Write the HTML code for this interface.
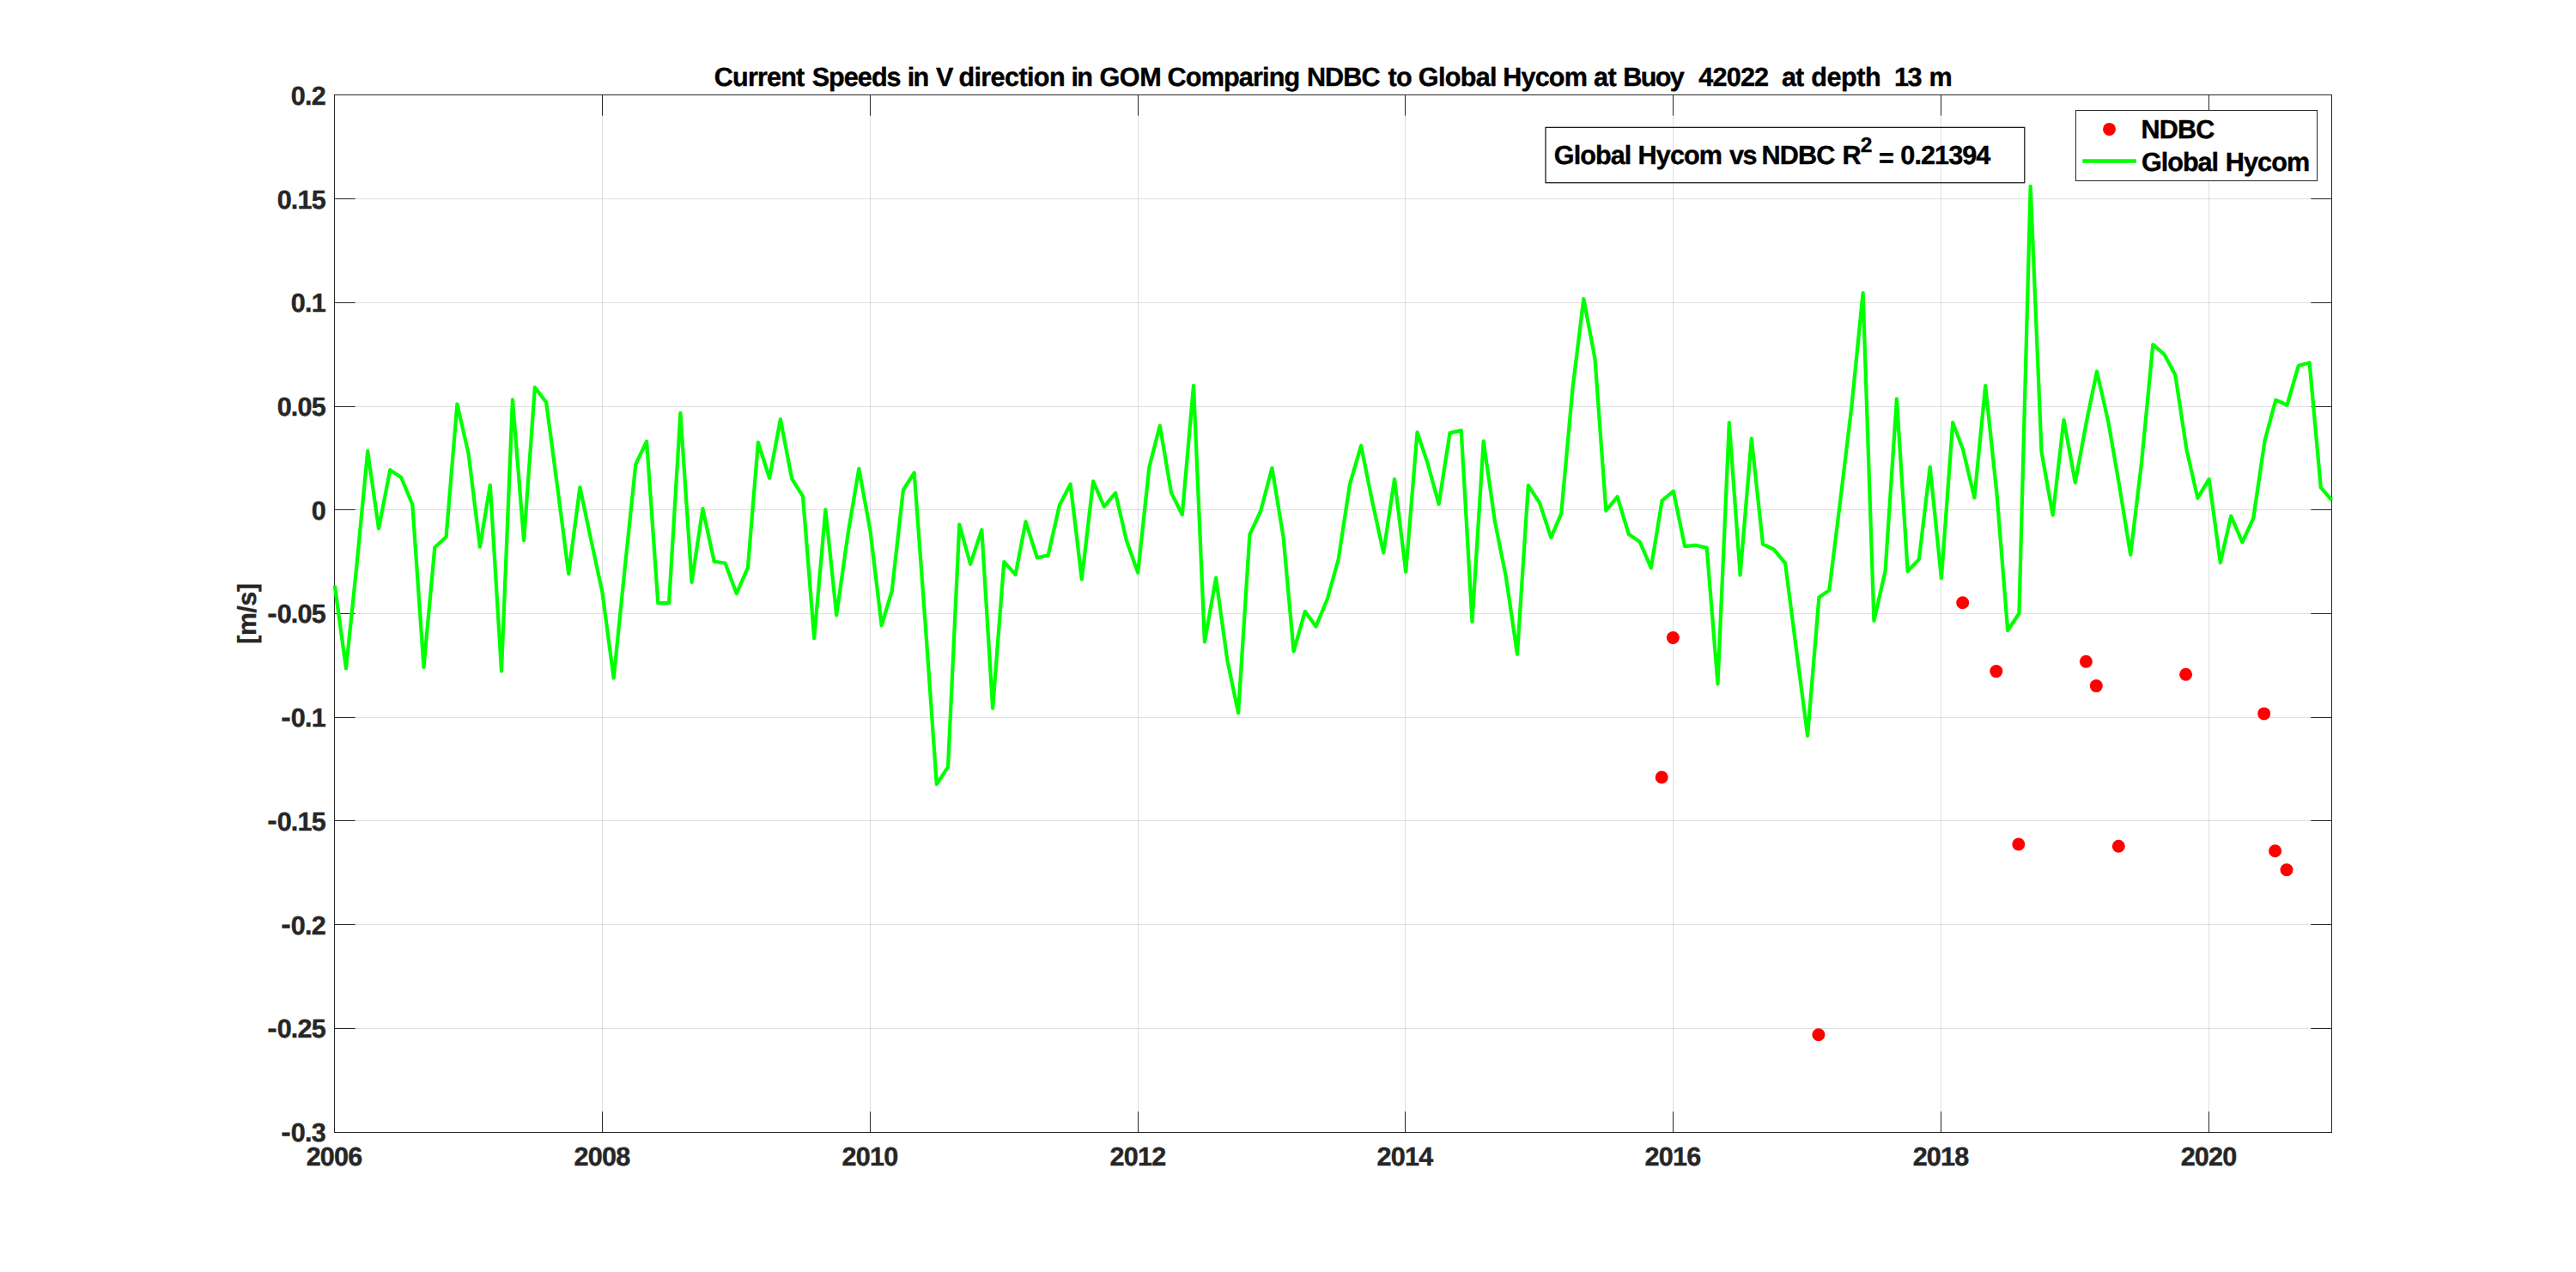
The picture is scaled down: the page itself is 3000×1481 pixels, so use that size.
<!DOCTYPE html>
<html><head><meta charset="utf-8"><title>Current Speeds</title>
<style>
html,body{margin:0;padding:0;background:#fff;overflow:hidden;}
svg{display:block;text-rendering:geometricPrecision;}
text{font-family:"Liberation Sans",Arial,Helvetica,sans-serif;font-weight:bold;font-size:30.6px;}
.tk{fill:#262626;stroke:#262626;stroke-width:0.4px;letter-spacing:-0.8px;}
.hy{fill:#262626;stroke:none;letter-spacing:0;font-size:36px;}
.bl{fill:#000;stroke:#000;stroke-width:0.4px;}
</style></head><body>
<svg width="3000" height="1481" viewBox="0 0 3000 1481">
<rect width="3000" height="1481" fill="#fff"/>

<g stroke="#262626" stroke-opacity="0.15" stroke-width="1">
<line x1="701.50" y1="110.5" x2="701.50" y2="1318.5"/>
<line x1="1013.50" y1="110.5" x2="1013.50" y2="1318.5"/>
<line x1="1325.50" y1="110.5" x2="1325.50" y2="1318.5"/>
<line x1="1636.50" y1="110.5" x2="1636.50" y2="1318.5"/>
<line x1="1948.50" y1="110.5" x2="1948.50" y2="1318.5"/>
<line x1="2260.50" y1="110.5" x2="2260.50" y2="1318.5"/>
<line x1="2572.50" y1="110.5" x2="2572.50" y2="1318.5"/>
<line x1="389.5" y1="231.50" x2="2715.5" y2="231.50"/>
<line x1="389.5" y1="352.50" x2="2715.5" y2="352.50"/>
<line x1="389.5" y1="473.50" x2="2715.5" y2="473.50"/>
<line x1="389.5" y1="593.50" x2="2715.5" y2="593.50"/>
<line x1="389.5" y1="714.50" x2="2715.5" y2="714.50"/>
<line x1="389.5" y1="835.50" x2="2715.5" y2="835.50"/>
<line x1="389.5" y1="955.50" x2="2715.5" y2="955.50"/>
<line x1="389.5" y1="1076.50" x2="2715.5" y2="1076.50"/>
<line x1="389.5" y1="1197.50" x2="2715.5" y2="1197.50"/>
</g>
<g stroke="#262626" stroke-width="1" fill="none">
<rect x="389.5" y="110.5" width="2326.0" height="1208.0"/>
<line x1="701.50" y1="1318.5" x2="701.50" y2="1294.3"/>
<line x1="701.50" y1="110.5" x2="701.50" y2="134.7"/>
<line x1="1013.50" y1="1318.5" x2="1013.50" y2="1294.3"/>
<line x1="1013.50" y1="110.5" x2="1013.50" y2="134.7"/>
<line x1="1325.50" y1="1318.5" x2="1325.50" y2="1294.3"/>
<line x1="1325.50" y1="110.5" x2="1325.50" y2="134.7"/>
<line x1="1636.50" y1="1318.5" x2="1636.50" y2="1294.3"/>
<line x1="1636.50" y1="110.5" x2="1636.50" y2="134.7"/>
<line x1="1948.50" y1="1318.5" x2="1948.50" y2="1294.3"/>
<line x1="1948.50" y1="110.5" x2="1948.50" y2="134.7"/>
<line x1="2260.50" y1="1318.5" x2="2260.50" y2="1294.3"/>
<line x1="2260.50" y1="110.5" x2="2260.50" y2="134.7"/>
<line x1="2572.50" y1="1318.5" x2="2572.50" y2="1294.3"/>
<line x1="2572.50" y1="110.5" x2="2572.50" y2="134.7"/>
<line x1="389.5" y1="231.50" x2="413.7" y2="231.50"/>
<line x1="2715.5" y1="231.50" x2="2691.3" y2="231.50"/>
<line x1="389.5" y1="352.50" x2="413.7" y2="352.50"/>
<line x1="2715.5" y1="352.50" x2="2691.3" y2="352.50"/>
<line x1="389.5" y1="473.50" x2="413.7" y2="473.50"/>
<line x1="2715.5" y1="473.50" x2="2691.3" y2="473.50"/>
<line x1="389.5" y1="593.50" x2="413.7" y2="593.50"/>
<line x1="2715.5" y1="593.50" x2="2691.3" y2="593.50"/>
<line x1="389.5" y1="714.50" x2="413.7" y2="714.50"/>
<line x1="2715.5" y1="714.50" x2="2691.3" y2="714.50"/>
<line x1="389.5" y1="835.50" x2="413.7" y2="835.50"/>
<line x1="2715.5" y1="835.50" x2="2691.3" y2="835.50"/>
<line x1="389.5" y1="955.50" x2="413.7" y2="955.50"/>
<line x1="2715.5" y1="955.50" x2="2691.3" y2="955.50"/>
<line x1="389.5" y1="1076.50" x2="413.7" y2="1076.50"/>
<line x1="2715.5" y1="1076.50" x2="2691.3" y2="1076.50"/>
<line x1="389.5" y1="1197.50" x2="413.7" y2="1197.50"/>
<line x1="2715.5" y1="1197.50" x2="2691.3" y2="1197.50"/>
</g>
<g>
<g fill="#ff0000">
<circle cx="1935.2" cy="905.0" r="7.5"/>
<circle cx="1948.4" cy="742.5" r="7.5"/>
<circle cx="2117.9" cy="1204.8" r="7.5"/>
<circle cx="2285.7" cy="701.7" r="7.5"/>
<circle cx="2324.8" cy="781.6" r="7.5"/>
<circle cx="2350.8" cy="983.0" r="7.5"/>
<circle cx="2429.4" cy="770.2" r="7.5"/>
<circle cx="2441.3" cy="798.6" r="7.5"/>
<circle cx="2467.3" cy="985.3" r="7.5"/>
<circle cx="2545.6" cy="785.2" r="7.5"/>
<circle cx="2636.7" cy="830.9" r="7.5"/>
<circle cx="2649.6" cy="990.7" r="7.5"/>
<circle cx="2663.0" cy="1012.8" r="7.5"/>
</g>
<polyline fill="none" stroke="#00ff00" stroke-width="4.25" stroke-linejoin="round" stroke-linecap="butt" points="389.8,681.6 403.0,778.2 415.0,662.7 428.2,525.2 441.0,615.3 454.3,547.2 467.1,555.8 480.3,587.2 493.5,776.9 506.3,637.5 519.6,625.0 532.4,470.5 545.6,528.1 558.9,636.7 570.8,564.8 584.0,781.3 596.9,465.4 610.1,629.1 622.9,451.0 636.1,468.4 649.4,568.7 662.2,668.1 675.4,567.3 688.2,628.1 701.4,689.4 714.7,789.5 727.1,667.4 740.3,540.7 753.1,513.9 766.3,702.0 779.1,702.0 792.4,480.9 805.6,677.9 818.4,592.2 831.7,653.9 844.5,655.5 857.7,691.1 870.9,661.1 882.9,515.1 896.1,556.5 908.9,488.1 922.2,557.4 935.0,577.8 948.2,743.0 961.4,593.4 974.2,716.2 987.5,621.8 1000.3,545.6 1013.5,618.1 1026.7,728.2 1038.7,688.2 1051.9,570.3 1064.7,550.4 1078.0,731.3 1090.8,913.1 1104.0,893.2 1117.3,610.7 1130.1,656.8 1143.3,617.0 1156.1,824.7 1169.3,654.1 1182.6,669.1 1194.5,607.3 1207.8,649.3 1220.6,646.7 1233.8,588.5 1246.6,563.6 1259.8,674.4 1273.1,560.4 1285.9,589.8 1299.1,573.9 1311.9,629.4 1325.2,666.8 1338.4,543.8 1350.8,495.6 1364.0,573.6 1376.8,599.2 1390.0,449.0 1402.9,747.3 1416.1,672.9 1429.3,768.6 1442.1,830.0 1455.4,622.4 1468.2,595.0 1481.4,544.9 1494.6,625.5 1506.6,758.3 1519.8,711.9 1532.6,729.4 1545.9,697.2 1558.7,651.3 1571.9,564.2 1585.1,518.8 1598.0,583.1 1611.2,643.5 1624.0,557.8 1637.2,665.8 1650.5,503.3 1662.4,538.7 1675.6,586.9 1688.5,504.1 1701.7,501.2 1714.5,723.8 1727.7,513.6 1741.0,607.7 1753.8,671.4 1767.0,761.6 1779.8,565.2 1793.0,585.4 1806.3,625.8 1818.2,598.2 1831.5,452.1 1844.3,348.0 1857.5,417.7 1870.3,594.7 1883.6,578.3 1896.8,621.9 1909.6,630.7 1922.8,661.2 1935.6,582.9 1948.9,571.9 1962.1,636.1 1974.5,634.8 1987.7,637.9 2000.5,796.3 2013.8,492.2 2026.6,669.5 2039.8,510.7 2053.0,633.5 2065.8,639.6 2079.1,655.9 2091.9,755.8 2105.1,856.6 2118.4,695.5 2130.3,687.2 2143.5,580.6 2156.3,474.1 2169.6,341.2 2182.4,722.8 2195.6,664.7 2208.9,464.4 2221.7,665.1 2234.9,651.1 2247.7,543.7 2260.9,673.2 2274.2,491.9 2286.1,523.6 2299.4,579.5 2312.2,449.2 2325.4,574.2 2338.2,734.0 2351.4,714.2 2364.7,216.8 2377.5,525.8 2390.7,599.7 2403.5,488.8 2416.8,561.8 2430.0,490.6 2442.0,432.5 2455.2,490.6 2468.0,564.5 2481.2,645.9 2494.0,539.0 2507.3,401.2 2520.5,412.6 2533.3,436.4 2546.5,523.6 2559.4,579.9 2572.6,557.9 2585.8,655.1 2598.2,600.8 2611.4,631.3 2624.2,603.6 2637.5,513.4 2650.3,465.6 2663.5,471.7 2676.8,425.8 2689.6,422.3 2702.8,567.7 2715.6,582.3"/>
</g>
<text class="tk" x="389.1" y="1357" text-anchor="middle">2006</text>
<text class="tk" x="701.0" y="1357" text-anchor="middle">2008</text>
<text class="tk" x="1013.0" y="1357" text-anchor="middle">2010</text>
<text class="tk" x="1325.0" y="1357" text-anchor="middle">2012</text>
<text class="tk" x="1636.0" y="1357" text-anchor="middle">2014</text>
<text class="tk" x="1948.0" y="1357" text-anchor="middle">2016</text>
<text class="tk" x="2260.1" y="1357" text-anchor="middle">2018</text>
<text class="tk" x="2572.1" y="1357" text-anchor="middle">2020</text>
<text class="tk" x="379" y="121.8" text-anchor="end">0.2</text>
<text class="tk" x="379" y="242.6" text-anchor="end">0.15</text>
<text class="tk" x="379" y="363.3" text-anchor="end">0.1</text>
<text class="tk" x="379" y="484.0" text-anchor="end">0.05</text>
<text class="tk" x="379" y="604.7" text-anchor="end">0</text>
<text class="tk" text-anchor="end"><tspan class="hy" x="323.0" y="726.0">-</tspan><tspan x="379" y="725.4">0.05</tspan></text>
<text class="tk" text-anchor="end"><tspan class="hy" x="339.0" y="846.7">-</tspan><tspan x="379" y="846.1">0.1</tspan></text>
<text class="tk" text-anchor="end"><tspan class="hy" x="323.0" y="967.4">-</tspan><tspan x="379" y="966.8">0.15</tspan></text>
<text class="tk" text-anchor="end"><tspan class="hy" x="339.0" y="1088.1">-</tspan><tspan x="379" y="1087.5">0.2</tspan></text>
<text class="tk" text-anchor="end"><tspan class="hy" x="323.0" y="1208.8">-</tspan><tspan x="379" y="1208.2">0.25</tspan></text>
<text class="tk" text-anchor="end"><tspan class="hy" x="339.0" y="1329.5">-</tspan><tspan x="379" y="1328.9">0.3</tspan></text>
<text class="tk" style="letter-spacing:-0.3px;font-size:30.2px" transform="translate(298,714.5) rotate(-90)" text-anchor="middle">[m/s]</text>
<text class="bl" y="100" xml:space="preserve" style="white-space:pre"><tspan x="831.8" style="letter-spacing:-0.83px">Current </tspan><tspan x="945.7" style="letter-spacing:-0.98px">Speeds </tspan><tspan x="1056.7" style="letter-spacing:-1.60px">in </tspan><tspan x="1089.9" style="letter-spacing:0.00px">V </tspan><tspan x="1116.4" style="letter-spacing:-0.62px">direction </tspan><tspan x="1247.4" style="letter-spacing:-1.60px">in </tspan><tspan x="1280.4" style="letter-spacing:-0.40px">GOM </tspan><tspan x="1359.6" style="letter-spacing:-0.86px">Comparing </tspan><tspan x="1521.9" style="letter-spacing:-0.93px">NDBC </tspan><tspan x="1616.5" style="letter-spacing:-0.70px">to </tspan><tspan x="1651.8" style="letter-spacing:-0.70px">Global </tspan><tspan x="1750.2" style="letter-spacing:-0.82px">Hycom </tspan><tspan x="1856.1" style="letter-spacing:-0.50px">at </tspan><tspan x="1890.2" style="letter-spacing:-1.60px">Buoy  </tspan><tspan x="1978.3" style="letter-spacing:-0.82px">42022  </tspan><tspan x="2075.1" style="letter-spacing:-1.20px">at </tspan><tspan x="2109.2" style="letter-spacing:-0.45px">depth  </tspan><tspan x="2206.1" style="letter-spacing:-1.60px">13 </tspan><tspan x="2246.4" style="letter-spacing:0.00px">m</tspan></text>
<rect x="1800" y="148.35" width="557.8" height="64.4" fill="none" stroke="#161616" stroke-width="1.25"/>
<text class="bl" y="191.1"><tspan x="1809.8" style="letter-spacing:-0.96px">Global </tspan><tspan x="1907.6" style="letter-spacing:-0.90px">Hycom </tspan><tspan x="2014.0" style="letter-spacing:-1.60px">vs </tspan><tspan x="2051.6" style="letter-spacing:-0.90px">NDBC </tspan><tspan x="2145.5" style="letter-spacing:0.00px">R</tspan><tspan x="2166.8" y="176.8" style="font-size:24.5px">2</tspan><tspan y="194"> </tspan><tspan x="2187.9" style="letter-spacing:0.00px">=</tspan><tspan y="191.1"> </tspan><tspan x="2213.3" style="letter-spacing:-0.92px">0.21394</tspan></text>
<rect x="2417.5" y="128.5" width="281" height="82" fill="#fff" stroke="#262626" stroke-width="1"/>
<circle cx="2456.5" cy="150.4" r="7.5" fill="#ff0000"/>
<line x1="2425.2" y1="187.5" x2="2487.8" y2="187.5" stroke="#00ff00" stroke-width="4.5"/>
<text class="bl" y="160.9"><tspan x="2493.4" style="letter-spacing:-0.80px">NDBC</tspan></text>
<text class="bl" y="198.6"><tspan x="2494.1" style="letter-spacing:-1.04px">Global </tspan><tspan x="2591.7" style="letter-spacing:-0.88px">Hycom</tspan></text>
</svg></body></html>
